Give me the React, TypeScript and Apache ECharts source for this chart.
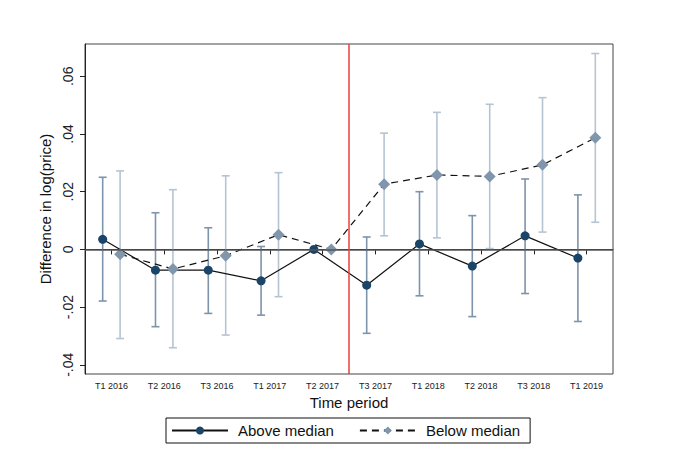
import { useEffect, useRef } from 'react';
import * as echarts from 'echarts';

const categories = ['T1 2016', 'T2 2016', 'T3 2016', 'T1 2017', 'T2 2017', 'T3 2017', 'T1 2018', 'T2 2018', 'T3 2018', 'T1 2019'];

const aboveEst = [0.0035, -0.0072, -0.0072, -0.0109, 0, -0.0124, 0.0019, -0.0058, 0.0047, -0.003];
const aboveLo = [-0.0179, -0.0268, -0.0222, -0.0228, null, -0.0291, -0.0161, -0.0233, -0.0153, -0.025];
const aboveHi = [0.025, 0.0127, 0.0075, 0.001, null, 0.0043, 0.02, 0.0117, 0.0244, 0.0189];

const belowEst = [-0.0017, -0.0068, -0.0022, 0.0051, 0, 0.0226, 0.0258, 0.0253, 0.0293, 0.0387];
const belowLo = [-0.0309, -0.0341, -0.0297, -0.0164, null, 0.0047, 0.004, 0.0003, 0.006, 0.0094];
const belowHi = [0.0272, 0.0207, 0.0255, 0.0266, null, 0.0403, 0.0475, 0.0503, 0.0526, 0.0679];

const yTicks = [-0.04, -0.02, 0, 0.02, 0.04, 0.06];
const yMin = -0.0432;
const yMax = 0.0712;
const eventX = 5.5; // between T2 2017 and T3 2017
const offset = 0.165;

const FONT = 'Liberation Sans, Arial, sans-serif';

function points(est: number[], shift: number) {
  return est.map((v, i) => [i + 1 + shift, v]);
}

function bars(lo: (number | null)[], hi: (number | null)[], shift: number) {
  const out: number[][] = [];
  lo.forEach((l, i) => {
    const h = hi[i];
    if (l !== null && h !== null) out.push([i + 1 + shift, l, h]);
  });
  return out;
}

function errorBarSeries(data: number[][], color: string) {
  return {
    type: 'custom',
    z: 1,
    silent: true,
    data,
    encode: { x: 0, y: [1, 2] },
    renderItem: (_params: any, api: any) => {
      const x = api.value(0);
      const lo = api.coord([x, api.value(1)]);
      const hi = api.coord([x, api.value(2)]);
      const cap = 4;
      const style = { stroke: color, lineWidth: 1.6 };
      return {
        type: 'group',
        children: [
          { type: 'line', shape: { x1: lo[0], y1: lo[1], x2: hi[0], y2: hi[1] }, style },
          { type: 'line', shape: { x1: hi[0] - cap, y1: hi[1], x2: hi[0] + cap, y2: hi[1] }, style },
          { type: 'line', shape: { x1: lo[0] - cap, y1: lo[1], x2: lo[0] + cap, y2: lo[1] }, style },
        ],
      };
    },
  };
}

function fmtY(v: number) {
  if (Math.abs(v) < 1e-9) return '0';
  return v.toFixed(2).replace('0.', '.');
}

export default function App() {
  const ref = useRef<HTMLDivElement | null>(null);

  useEffect(() => {
    document.body.style.margin = '0';
    if (!ref.current) return;
    const chart = echarts.init(ref.current, null, { renderer: 'svg' });

    chart.setOption({
      animation: false,
      backgroundColor: '#ffffff',
      textStyle: { fontFamily: FONT },
      grid: {
        left: 85,
        right: 67,
        top: 44,
        bottom: 92,
        show: true,
        borderColor: '#444',
        borderWidth: 1,
      },
      legend: {
        top: 418,
        left: 166,
        orient: 'horizontal',
        padding: [5, 10, 5, 5],
        borderColor: '#111',
        borderWidth: 1,
        itemWidth: 56,
        itemHeight: 10,
        itemGap: 25,
        textStyle: { fontSize: 15, color: '#111', fontFamily: FONT, padding: [0, 0, 0, 5] },
        data: ['Above median', 'Below median'],
      },
      xAxis: {
        type: 'value',
        min: 0.5,
        max: 10.5,
        name: 'Time period',
        nameLocation: 'middle',
        nameGap: 16,
        nameTextStyle: { fontSize: 15, color: '#111', fontFamily: FONT },
        splitLine: { show: false },
        axisLine: { lineStyle: { color: '#222', width: 1 } },
        axisTick: {
          show: true,
          length: 5,
          lineStyle: { color: '#222' },
          customValues: categories.map((_, i) => i + 1),
        },
        axisLabel: {
          fontSize: 9,
          color: '#222',
          margin: 7,
          customValues: categories.map((_, i) => i + 1),
          formatter: (v: number) => categories[Math.round(v) - 1] ?? '',
        },
      },
      yAxis: {
        type: 'value',
        min: yMin,
        max: yMax,
        name: 'Difference in log(price)',
        nameLocation: 'middle',
        nameRotate: 90,
        nameGap: 30,
        nameTextStyle: { fontSize: 15, color: '#111', fontFamily: FONT },
        splitLine: { show: false },
        axisLine: { show: true, lineStyle: { color: '#222', width: 1 } },
        axisTick: { show: true, length: 5, lineStyle: { color: '#222' }, customValues: yTicks },
        axisLabel: {
          fontSize: 14,
          color: '#222',
          rotate: 90,
          margin: 10,
          customValues: yTicks,
          formatter: fmtY,
        },
      },
      series: [
        errorBarSeries(bars(aboveLo, aboveHi, -offset), '#7d94ab'),
        errorBarSeries(bars(belowLo, belowHi, offset), '#b6c4d2'),
        {
          type: 'line',
          name: 'Reference',
          data: [],
          silent: true,
          markLine: {
            silent: true,
            symbol: 'none',
            label: { show: false },
            data: [
              { yAxis: 0, lineStyle: { color: '#555', width: 1.5, type: 'solid' } },
              { xAxis: eventX, lineStyle: { color: '#e8413c', width: 1.5, type: 'solid' } },
            ],
          },
        },
        {
          type: 'line',
          name: 'Above median',
          z: 3,
          data: points(aboveEst, -offset),
          symbol: 'circle',
          symbolSize: 9,
          itemStyle: { color: '#1a4568' },
          lineStyle: { color: '#111', width: 1.2, type: 'solid' },
        },
        {
          type: 'line',
          name: 'Below median',
          z: 3,
          data: points(belowEst, offset),
          symbol: 'diamond',
          symbolSize: 12,
          itemStyle: { color: '#8096ac' },
          lineStyle: { color: '#111', width: 1.2, type: [7, 5] },
        },
      ],
    });

    return () => {
      chart.dispose();
    };
  }, []);

  return <div ref={ref} style={{ width: 680, height: 466 }} />;
}
